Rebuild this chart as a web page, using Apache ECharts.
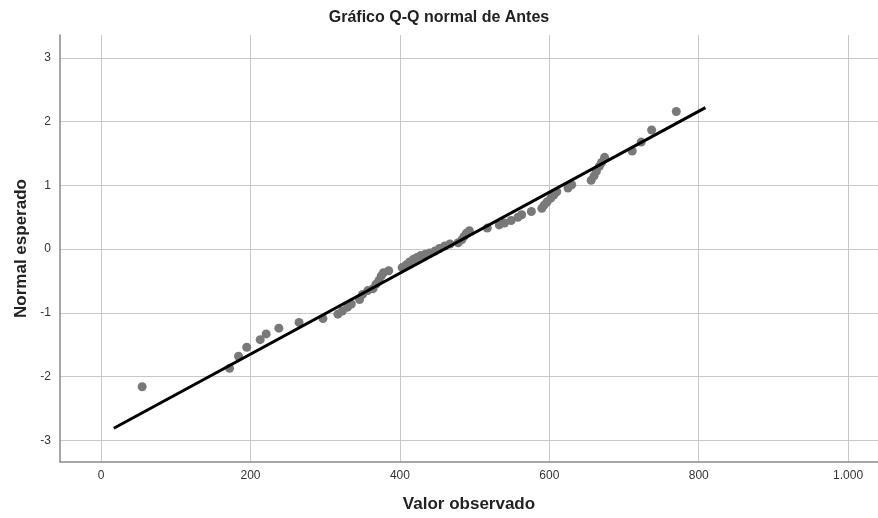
<!DOCTYPE html>
<html>
<head>
<meta charset="utf-8">
<script src="https://cdn.jsdelivr.net/npm/echarts@6/dist/echarts.min.js"></script>
<style>html,body{margin:0;padding:0;background:#fff;overflow:hidden}#c{width:878px;height:518px}</style>
</head>
<body>
<div id="c"></div>
<script>
const observedValues = [55,172,184,195,213,221,238,265,297,317,323,330,335,346,350,357,364,368,372,375,378,385,403,408,413,418,423,428,434,440,447,453,460,467,478,483,486,489,493,517,533,540,549,558,563,576,590,593,597,602,606,610,625,630,656,660,663,667,670,674,711,723,737,770];
const expectedNormal = [-2.16,-1.87,-1.68,-1.54,-1.42,-1.33,-1.24,-1.15,-1.09,-1.02,-0.97,-0.91,-0.86,-0.79,-0.71,-0.65,-0.62,-0.55,-0.49,-0.42,-0.37,-0.34,-0.29,-0.25,-0.20,-0.16,-0.13,-0.10,-0.08,-0.06,-0.03,0.01,0.05,0.08,0.10,0.15,0.20,0.25,0.29,0.33,0.38,0.41,0.45,0.50,0.54,0.59,0.64,0.69,0.74,0.80,0.85,0.90,0.96,1.01,1.08,1.15,1.22,1.30,1.36,1.44,1.54,1.68,1.87,2.16];
const refLineX = [17, 809];
const refLineY = [-2.81, 2.22];
const xTicks = [0,200,400,600,800,1000];
const yTicks = [-3,-2,-1,0,1,2,3];

const points = observedValues.map((v,i)=>[v, expectedNormal[i]]);
const linePts = refLineX.map((v,i)=>[v, refLineY[i]]);
const fmtThousands = v => String(v).replace(/\B(?=(\d{3})+(?!\d))/g, '.');

const chart = echarts.init(document.getElementById('c'));
chart.setOption({
  animation: false,
  backgroundColor: '#fff',
  title: {
    text: 'Gráfico Q-Q normal de Antes',
    left: 'center', top: 5,
    textStyle: {fontFamily: 'Liberation Sans', fontSize: 16, fontWeight: 'bold', color: '#222'}
  },
  grid: {left: 60, right: 0, top: 35, bottom: 52},
  xAxis: {
    type: 'value', min: -55, max: 1040,
    name: 'Valor observado', nameLocation: 'middle', nameGap: 34,
    nameTextStyle: {fontFamily: 'Liberation Sans', fontSize: 17, fontWeight: 'bold', color: '#222'},
    axisLine: {show: true, onZero: false, lineStyle: {color: '#8a8a8a', width: 1.5}},
    axisTick: {show: false, customValues: xTicks},
    axisLabel: {customValues: xTicks, formatter: fmtThousands, fontFamily: 'Liberation Sans', fontSize: 12, color: '#333', margin: 8},
    splitLine: {show: true, lineStyle: {color: '#c8c8c8', width: 1}}
  },
  yAxis: {
    type: 'value', min: -3.34, max: 3.36,
    name: 'Normal esperado', nameLocation: 'middle', nameGap: 30,
    nameTextStyle: {fontFamily: 'Liberation Sans', fontSize: 17, fontWeight: 'bold', color: '#222'},
    axisLine: {show: true, onZero: false, lineStyle: {color: '#8a8a8a', width: 1.5}},
    axisTick: {show: false, customValues: yTicks},
    axisLabel: {customValues: yTicks, fontFamily: 'Liberation Sans', fontSize: 12, color: '#333', margin: 9},
    splitLine: {show: true, lineStyle: {color: '#c8c8c8', width: 1}}
  },
  series: [
    {
      type: 'scatter', data: points, symbolSize: 9,
      itemStyle: {color: '#797979', opacity: 1}, z: 2
    },
    {
      type: 'line', data: linePts, symbol: 'none',
      lineStyle: {color: '#000', width: 3}, z: 3
    }
  ]
});
</script>
</body>
</html>
